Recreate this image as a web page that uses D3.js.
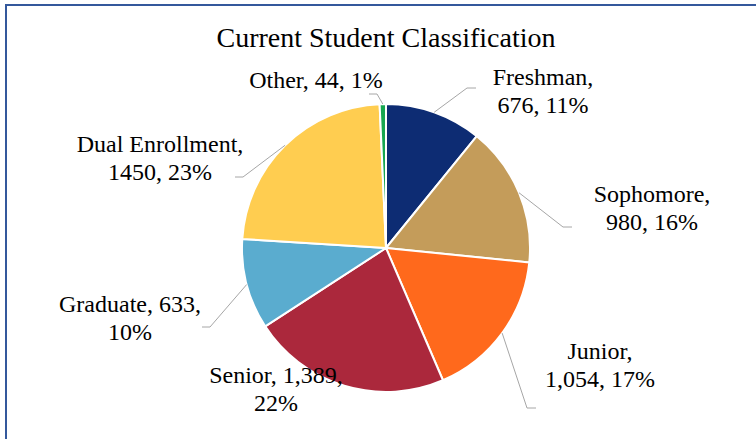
<!DOCTYPE html>
<html>
<head>
<meta charset="utf-8">
<script src="https://cdn.jsdelivr.net/npm/d3@7"></script>
<style>
  body { margin: 0; background: #fff; }
  text { font-family: "Liberation Serif", "Times New Roman", serif; fill: #000; }
</style>
</head>
<body>
<div id="container"></div>
<script>
// data
let categories = ["Freshman", "Sophomore", "Junior", "Senior", "Graduate", "Dual Enrollment", "Other"];
let counts = [676, 980, 1054, 1389, 633, 1450, 44];
let countLabels = ["676", "980", "1,054", "1,389", "633", "1450", "44"];
let colors = ["#0D2C73", "#C49C5A", "#FF691C", "#AB283C", "#5AACCF", "#FFCD50", "#17A750"];

let w = 756;
let h = 439;
let cx = 386, cy = 248, r = 144;

// label layout: how each label is broken in lines, where it sits, where its leader bends
let labelLayout = {
  "Freshman":        { lines: ["Freshman,", "{n}, {p}"], x: 543, y: 85, elbow: [467, 88], stub: [476, 88] },
  "Sophomore":       { lines: ["Sophomore,", "{n}, {p}"], x: 652, y: 202, elbow: [563, 227], stub: [572, 227] },
  "Junior":          { lines: ["Junior,", "{n}, {p}"], x: 600, y: 359, elbow: [527, 408], stub: [536, 408] },
  "Senior":          { lines: ["Senior, {n},", "{p}"], x: 276, y: 383, elbow: null },
  "Graduate":        { lines: ["Graduate, {n},", "{p}"], x: 130, y: 312, elbow: [210, 327], stub: [202, 327] },
  "Dual Enrollment": { lines: ["Dual Enrollment,", "{n}, {p}"], x: 160, y: 152, elbow: [243, 177], stub: [235, 177] },
  "Other":           { lines: ["Other, {n}, {p}"], x: 316, y: 88, elbow: [377, 94], stub: [369, 94] }
};

let data = categories.map((c, i) => ({ name: c, value: counts[i], label: countLabels[i], color: colors[i] }));
let total = d3.sum(counts);

let svg = d3.select("#container")
  .append("svg")
  .attr("width", w)
  .attr("height", h)
  .style("display", "block");

// chart frame (runs off the right and bottom of the picture)
svg.append("rect")
  .attr("x", 6)
  .attr("y", 5)
  .attr("width", w + 20)
  .attr("height", h + 20)
  .attr("fill", "#fff")
  .attr("stroke", "#34589C")
  .attr("stroke-width", 2);

svg.append("text")
  .attr("x", 386)
  .attr("y", 47)
  .attr("text-anchor", "middle")
  .style("font-size", "28px")
  .text("Current Student Classification");

let pie = d3.pie().sort(null).value(d => d.value);
let arcs = pie(data);

let arc = d3.arc().innerRadius(0).outerRadius(r);
let edgeArc = d3.arc().innerRadius(r).outerRadius(r);

let g = svg.append("g").attr("transform", `translate(${cx},${cy})`);

g.selectAll(".slice")
  .data(arcs)
  .enter()
  .append("path")
  .attr("class", "slice")
  .attr("d", arc)
  .attr("fill", d => d.data.color)
  .attr("stroke", "#fff")
  .attr("stroke-width", 2)
  .attr("stroke-linejoin", "round");

// leader lines
arcs.forEach(d => {
  let lay = labelLayout[d.data.name];
  if (!lay.elbow) return;
  let p = edgeArc.centroid(d);
  let pts = [[cx + p[0], cy + p[1]], lay.elbow, lay.stub];
  svg.append("path")
    .attr("d", d3.line()(pts))
    .attr("fill", "none")
    .attr("stroke", "#A6A6A6")
    .attr("stroke-width", 1);
});

// labels
arcs.forEach(d => {
  let lay = labelLayout[d.data.name];
  let pct = Math.round(d.data.value / total * 100) + "%";
  let t = svg.append("text")
    .attr("text-anchor", "middle")
    .style("font-size", "24px");
  lay.lines.forEach((ln, i) => {
    t.append("tspan")
      .attr("x", lay.x)
      .attr("y", lay.y + i * 28)
      .text(ln.replace("{n}", d.data.label).replace("{p}", pct));
  });
});
</script>
</body>
</html>
